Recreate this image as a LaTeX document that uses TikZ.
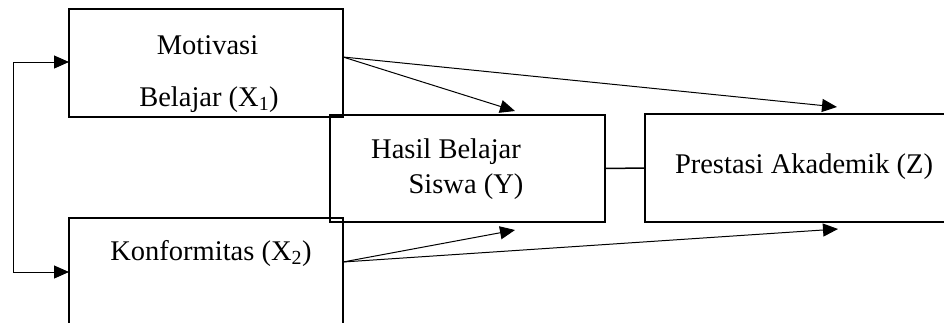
\documentclass[tikz,border=0pt]{standalone}
\usepackage{fontspec}
\setmainfont{Liberation Serif}
\usetikzlibrary{arrows.meta,calc}
\newcommand{\lblfont}{\fontsize{28.5pt}{32pt}\selectfont}
\begin{document}
\begin{tikzpicture}[x=1pt,y=-1pt,
  box/.style={draw,line width=2pt,inner sep=0pt,outer sep=0pt},
  conn/.style={line width=1pt},
  arr/.style={conn,-{Triangle[length=15pt,width=13pt]}},
  lbl/.style={anchor=base,inner sep=0pt,font=\lblfont}]
\useasboundingbox (0,0) rectangle (944,322);
\fill[white] (0,0) rectangle (944,322);
\clip (0,0) rectangle (944,322);
% boxes
\node[box,minimum width=274pt,minimum height=108pt] (X1) at (206,63) {};
\node[box,minimum width=274pt,minimum height=116pt] (X2) at (206,276) {};
\node[box,minimum width=275pt,minimum height=107pt] (Y) at (467.5,168.5) {};
\node[box,minimum width=315pt,minimum height=108pt] (Z) at (802.5,168) {};
% labels
\node[lbl] (t1) at (207.5,54) {Motivasi};
\node[lbl] (t2) at (209,106) {Belajar (X\textsubscript{1})};
\node[lbl] (t3) at (211,260) {Konformitas (X\textsubscript{2})};
\node[lbl] (t4) at (446,158) {Hasil Belajar};
\node[lbl] (t5) at (466,193) {Siswa (Y)};
\node[lbl] (t6) at (804,173) {Prestasi Akademik (Z)};
% connector coordinates
\coordinate (L) at (13,167);
\coordinate (x1o) at ($(X1.east)+(0,-6)$);
\coordinate (x2o) at ($(X2.east)+(0,-14)$);
\coordinate (yt) at (515,111);
\coordinate (zt) at (837,107);
\coordinate (yb) at (515,230);
\coordinate (zb) at (838,229);
% connectors
\draw[arr] (L) |- ($(X1.west)+(0,-1)$);
\draw[arr] (L) |- ($(X2.west)+(0,-4)$);
\draw[arr] (x1o) -- (yt);
\draw[arr] (x1o) -- (zt);
\draw[arr] (x2o) -- (yb);
\draw[arr] (x2o) -- (zb);
\draw[conn,line width=1.5pt] (Y.east) -- (Z.west);
\end{tikzpicture}
\end{document}
